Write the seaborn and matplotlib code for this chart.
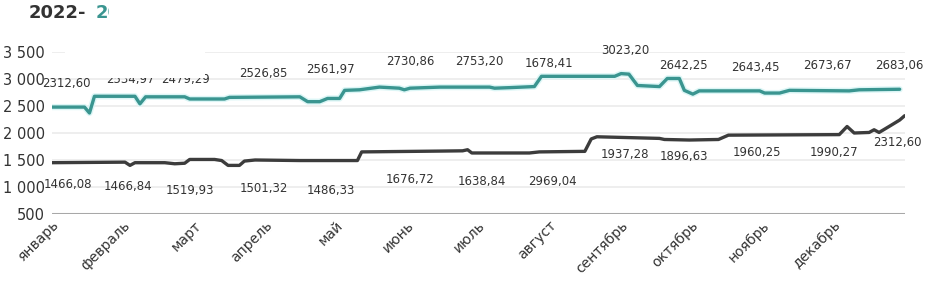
import matplotlib
matplotlib.use("Agg")
import matplotlib.pyplot as plt
import seaborn as sns
import pandas as pd
from matplotlib.patches import Rectangle

months = ["январь", "февраль", "март", "апрель", "май", "июнь", "июль",
          "август", "сентябрь", "октябрь", "ноябрь", "декабрь"]

# upper (teal) series: position in months, value
teal_t = [0.0, 0.46, 0.53, 0.6, 1.17, 1.24, 1.32, 1.87, 1.94, 2.43, 2.5, 3.49, 3.6,
          3.77, 3.88, 4.05, 4.12, 4.33, 4.61, 4.89, 4.96, 5.04, 5.46, 6.16, 6.23,
          6.44, 6.79, 6.89, 7.92, 8.01, 8.12, 8.24, 8.55, 8.66, 8.83, 8.9, 9.02,
          9.11, 9.96, 10.03, 10.24, 10.38, 11.22, 11.36, 11.93]
teal_v = [2480, 2480, 2370, 2680, 2680, 2540, 2670, 2670, 2630, 2630, 2660, 2670, 2580,
          2580, 2640, 2640, 2790, 2800, 2850, 2830, 2800, 2830, 2850, 2850, 2830,
          2840, 2860, 3050, 3050, 3100, 3090, 2880, 2860, 3010, 3010, 2790, 2720,
          2780, 2780, 2740, 2740, 2790, 2780, 2800, 2810]

# lower (dark) series
dark_t = [0.0, 1.03, 1.1, 1.17, 1.59, 1.73, 1.87, 1.94, 2.29, 2.39, 2.48, 2.64, 2.71,
          2.86, 3.49, 4.3, 4.36, 5.46, 5.78, 5.85, 5.91, 6.72, 6.86, 7.5, 7.59, 7.67,
          8.55, 8.62, 8.97, 9.38, 9.52, 11.08, 11.19, 11.29, 11.5, 11.57, 11.64,
          11.78, 11.93, 12.0]
dark_v = [1450, 1460, 1400, 1450, 1450, 1430, 1440, 1510, 1510, 1490, 1400, 1400, 1480,
          1500, 1490, 1490, 1650, 1665, 1670, 1690, 1630, 1630, 1650, 1660, 1890, 1930,
          1900, 1880, 1870, 1880, 1960, 1970, 2120, 2000, 2010, 2060, 2010,
          2120, 2240, 2320]

# data labels as printed on the chart
teal_labels = ["2312,60", "2534,97", "2479,29", "2526,85", "2561,97", "2730,86", "2753,20",
               "1678,41", "3023,20", "2642,25", "2643,45", "2673,67", "2683,06"]
teal_lab_x = [0.2, 1.1, 1.88, 2.97, 3.92, 5.04, 6.01, 7.0, 8.07, 8.89, 9.9, 10.91, 11.93]
teal_lab_y = [2926, 3000, 3000, 3111, 3167, 3315, 3315, 3296, 3537, 3241, 3204, 3241, 3241]

dark_labels = ["1466,08", "1466,84", "1519,93", "1501,32", "1486,33", "1676,72", "1638,84",
               "2969,04", "1937,28", "1896,63", "1960,25", "1990,27", "2312,60"]
dark_lab_x = [0.23, 1.07, 1.94, 2.98, 3.92, 5.04, 6.05, 7.05, 8.07, 8.89, 9.92, 11.01, 11.9]
dark_lab_y = [1037, 1000, 944, 981, 944, 1130, 1111, 1111, 1593, 1556, 1630, 1648, 1815]

yticks = [500, 1000, 1500, 2000, 2500, 3000, 3500]

TEAL = "#3a9590"
DARK = "#3c3c3c"

sns.set_theme(style="white")
plt.rcParams["font.family"] = ["DejaVu Sans"]

df_teal = pd.DataFrame({"t": teal_t, "v": teal_v})
df_dark = pd.DataFrame({"t": dark_t, "v": dark_v})

fig = plt.figure(figsize=(9.25, 2.95), dpi=100)
ax = fig.add_axes([0.056, 0.2746, 0.922, 0.5491])

for y in yticks[1:]:
    ax.axhline(y, color="#ebebeb", lw=1.2, zorder=0)
ax.axhline(500, color="#a8a8a8", lw=2.2, zorder=0)

# soft glow under the teal line
ax.plot(teal_t, teal_v, color="#dcf6f6", lw=4.5, solid_joinstyle="round", zorder=1)
sns.lineplot(data=df_teal, x="t", y="v", ax=ax, color=TEAL, lw=2.4, zorder=2)
sns.lineplot(data=df_dark, x="t", y="v", ax=ax, color=DARK, lw=2.4, zorder=2)

for txt, x, y in zip(teal_labels, teal_lab_x, teal_lab_y):
    ax.text(x, y, txt, ha="center", va="center", fontsize=8.5, color="#333333",
            clip_on=False)
for txt, x, y in zip(dark_labels, dark_lab_x, dark_lab_y):
    ax.text(x, y, txt, ha="center", va="center", fontsize=8.5, color="#333333",
            clip_on=False)

ax.set_xlim(0, 12)
ax.set_ylim(500, 3500)
ax.set_yticks(yticks)
ax.set_yticklabels([f"{v:,}".replace(",", " ") for v in yticks], fontsize=10.5,
                   color="#333333")
ax.set_xticks(range(12))
ax.set_xticklabels(months, rotation=45, ha="right", rotation_mode="anchor",
                   fontsize=10, color="#333333")
ax.tick_params(axis="y", length=0, pad=5)
ax.tick_params(axis="x", length=0, pad=3)
ax.set_xlabel("")
ax.set_ylabel("")
for s in ax.spines.values():
    s.set_visible(False)

fig.text(29 / 925, 1 - 13 / 295, "2022-", fontsize=13, fontweight="bold",
         color="#333333", va="center", ha="left")
fig.text(96 / 925, 1 - 13 / 295, "2023", fontsize=13, fontweight="bold",
         color=TEAL, va="center", ha="left")

# white boxes covering part of the header, as in the source image
fig.patches.append(Rectangle((109 / 925, 1 - 45 / 295), 96 / 925, 45 / 295,
                             transform=fig.transFigure, facecolor="white",
                             edgecolor="none", zorder=10))
fig.patches.append(Rectangle((65 / 925, 1 - 78 / 295), 140 / 925, 33 / 295,
                             transform=fig.transFigure, facecolor="white",
                             edgecolor="none", zorder=10))

fig.savefig("out.png", dpi=100)
